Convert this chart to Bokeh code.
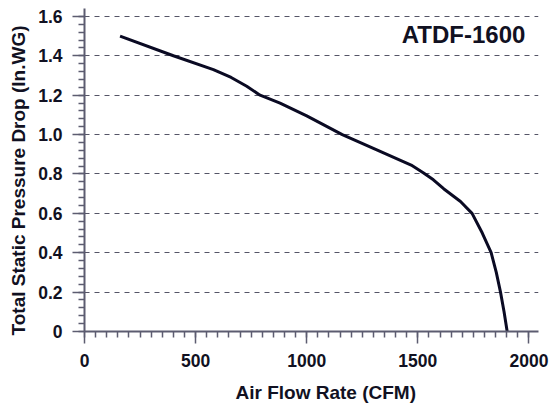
from bokeh.plotting import figure
from bokeh.models import Range1d, SingleIntervalTicker, Label, CustomJSTickFormatter, Title
from bokeh.embed import file_html
from bokeh.resources import INLINE

# Data
flow_cfm = [160, 400, 580, 660, 730, 790, 880, 1000, 1160, 1300, 1470, 1526, 1570, 1616,
            1692, 1744, 1790, 1830, 1853, 1872, 1888, 1902]
pressure_inwg = [1.50, 1.40, 1.33, 1.29, 1.245, 1.20, 1.16, 1.095, 1.00, 0.93, 0.845, 0.805, 0.77, 0.725,
                 0.66, 0.60, 0.50, 0.40, 0.30, 0.20, 0.10, 0.0]
model_name = "ATDF-1600"
x_title = "Air Flow Rate (CFM)"
y_title = "Total Static Pressure Drop (In.WG)"

FONT = "Liberation Sans"
TXT = "#111122"
AX = "#5c5c70"

p = figure(width=558, height=412, output_backend="svg", toolbar_location=None,
           x_range=Range1d(0, 2043), y_range=Range1d(0, 1.64),
           min_border_left=84, min_border_right=20, min_border_top=8, min_border_bottom=80)
p.outline_line_color = None
p.background_fill_color = "white"
p.border_fill_color = "white"

p.xgrid.grid_line_color = None
p.ygrid.grid_line_color = "#555566"
p.ygrid.grid_line_dash = "5 5"
p.ygrid.grid_line_width = 1

p.xaxis.ticker = SingleIntervalTicker(interval=500, num_minor_ticks=10)
p.yaxis.ticker = SingleIntervalTicker(interval=0.2, num_minor_ticks=5)
p.yaxis.formatter = CustomJSTickFormatter(code="return Math.abs(tick) < 1e-9 ? '0' : tick.toFixed(1);")
p.xaxis.formatter = CustomJSTickFormatter(code="return Math.round(tick).toString();")

for ax in (p.xaxis, p.yaxis):
    ax.axis_line_color = AX
    ax.axis_line_width = 2
    ax.major_tick_line_color = AX
    ax.minor_tick_line_color = AX
    ax.major_tick_line_width = 1.5
    ax.minor_tick_line_width = 1.5
    ax.major_tick_out = 12
    ax.major_tick_in = 0
    ax.minor_tick_out = 6
    ax.minor_tick_in = 0
    ax.major_label_text_font = FONT
    ax.major_label_text_font_style = "bold"
    ax.major_label_text_font_size = "17.5px"
    ax.major_label_text_color = TXT
    ax.major_label_standoff = 10

p.line(flow_cfm, pressure_inwg, line_color="#0a0a23", line_width=3)

p.add_layout(Title(text=x_title, align="left", offset=151, text_font=FONT, text_font_style="bold",
                   text_font_size="19px", text_color=TXT, standoff=20), "below")
p.add_layout(Title(text=y_title, align="left", offset=-4, vertical_align="top", text_font=FONT,
                   text_font_style="bold", text_font_size="19px", text_color=TXT, standoff=10), "left")
p.add_layout(Label(x=1984, y=1.51, text=model_name, text_align="right", text_baseline="alphabetic",
                   text_font=FONT, text_font_style="bold", text_font_size="24px", text_color=TXT))

open("out.html", "w").write(file_html(p, INLINE))
